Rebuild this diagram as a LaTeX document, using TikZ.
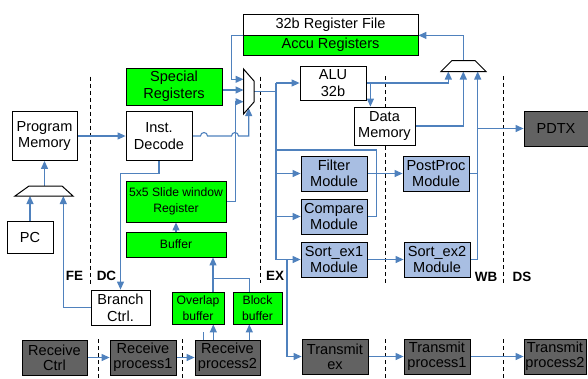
\documentclass[tikz,border=0pt]{standalone}
\usepackage{fontspec}
\setmainfont{Liberation Sans}
\usetikzlibrary{arrows.meta}
\usetikzlibrary{calc}
\usetikzlibrary{backgrounds}

\definecolor{linkblue}{RGB}{79,129,189}
\definecolor{accugreen}{RGB}{0,255,0}
\definecolor{modblue}{RGB}{168,190,226}
\definecolor{iogray}{RGB}{98,98,98}

\tikzset{
    box/.style = {draw=black, line width=0.8bp, fill=white, inner sep=0pt, align=center,
                  font=\fontsize{14.6}{17}\selectfont},
    greenbox/.style = {box, fill=accugreen},
    greensmall/.style = {greenbox, font=\fontsize{12.2}{15.5}\selectfont},
    modbox/.style = {box, fill=modblue, font=\fontsize{14.6}{16}\selectfont},
    iobox/.style = {box, fill=iogray, font=\fontsize{14.6}{15}\selectfont},
    wire/.style = {draw=linkblue, line width=1.1bp},
    link/.style = {wire, -{Triangle[length=8bp,width=7bp]}},
    stage/.style = {draw=black, line width=1bp, dash pattern=on 4bp off 3bp},
    stagelabel/.style = {inner sep=0pt, font=\fontsize{13.5}{13.5}\bfseries\selectfont},
    mux/.style = {draw=black, line width=1bp, fill=white}
}

\begin{document}
\begin{tikzpicture}[x=1bp, y=-1bp]
    \useasboundingbox (0,0) rectangle (588,378);

    % fetch / decode
    \node[box, minimum width=65bp, minimum height=49bp] (progmem) at (44.5,136) {Program\\Memory};
    \node[box, minimum width=66bp, minimum height=49bp] (decode) at (159,136) {Inst.\\Decode};
    \node[box, minimum width=46bp, minimum height=32bp] (pc) at (30,237) {PC};
    \node[box, minimum width=59bp, minimum height=35bp] (branch) at (120.5,307.5) {Branch\\Ctrl.};
    \node[greenbox, minimum width=96bp, minimum height=37bp] (special) at (174,86.5) {Special\\Registers};
    \node[greensmall, minimum width=100bp, minimum height=41bp] (slide) at (176,201.5) {5x5 Slide window\\Register};
    \node[greensmall, minimum width=100bp, minimum height=25bp] (buffer) at (176,244.5) {Buffer};
    \node[greensmall, minimum width=52bp, minimum height=32bp] (overlap) at (198,308) {Overlap\\buffer};
    \node[greensmall, minimum width=49bp, minimum height=32bp] (block) at (257.5,308) {Block\\buffer};

    % execute / write back
    \node[box, minimum width=175bp, minimum height=21bp] (regfile) at (330.5,24.5) {32b Register File};
    \node[greenbox, minimum width=175bp, minimum height=20bp] (accu) at (330.5,45) {Accu Registers};
    \node[box, minimum width=66bp, minimum height=34bp] (alu) at (333,83) {ALU\\32b};
    \node[box, minimum width=61bp, minimum height=38bp] (datamem) at (384.5,126) {Data\\Memory};
    \node[modbox, minimum width=66bp, minimum height=35bp] (filter) at (334,173.5) {Filter\\Module};
    \node[modbox, minimum width=66bp, minimum height=35bp] (compare) at (334,216.5) {Compare\\Module};
    \node[modbox, minimum width=66bp, minimum height=35bp] (sortone) at (334,259.5) {Sort\_ex1\\Module};
    \node[modbox, minimum width=66bp, minimum height=35bp] (postproc) at (436,173.5) {PostProc\\Module};
    \node[modbox, minimum width=66bp, minimum height=35bp] (sorttwo) at (437,259.5) {Sort\_ex2\\Module};
    \node[iobox, minimum width=64bp, minimum height=35bp] (pdtx) at (556,128.5) {PDTX};

    % receive / transmit chain
    \node[iobox, minimum width=65bp, minimum height=35bp] (rxctrl) at (54.5,357.5) {Receive\\Ctrl};
    \node[iobox, minimum width=66bp, minimum height=35bp] (rxone) at (143,357.5) {Receive\\process1};
    \node[iobox, minimum width=65bp, minimum height=35bp] (rxtwo) at (227.5,357.5) {Receive\\process2};
    \node[iobox, minimum width=66bp, minimum height=35bp] (txex) at (335,356.5) {Transmit\\ex};
    \node[iobox, minimum width=66bp, minimum height=35bp] (txone) at (437,356.5) {Transmit\\process1};
    \node[iobox, minimum width=62bp, minimum height=35bp] (txtwo) at (555,356.5) {Transmit\\process2};

    % muxes
    \draw[mux] (15,196) -- (29,186) -- (62,186) -- (73,196) -- cycle;
    \draw[mux] (243.5,69) -- (254,81) -- (254,102) -- (243.5,114) -- cycle;
    \draw[mux] (441,71.5) -- (452,60.5) -- (475,60.5) -- (486,71.5) -- cycle;
    \coordinate (pcmux-in1) at (30,196);
    \coordinate (pcmux-in2) at (63.3,196);
    \coordinate (pcmux-out) at (44.5,186);
    \coordinate (opmux-in1) at (243.5,79.3);
    \coordinate (opmux-in2) at (243.5,90);
    \coordinate (opmux-in3) at (243.5,101.7);
    \coordinate (opmux-in4) at (248.7,108.1);
    \coordinate (opmux-out) at (254,91.7);
    \coordinate (wbmux-in1) at (448.3,71.5);
    \coordinate (wbmux-in2) at (463.3,71.5);
    \coordinate (wbmux-in3) at (477.7,71.5);
    \coordinate (wbmux-out) at (463.3,60.5);
    \coordinate (bus) at (276,83);
    \coordinate (tap) at (276,150);

    % stage labels
    \node[stagelabel] (fe) at (74.5,276) {FE};
    \node[stagelabel] (dc) at (106.5,276) {DC};
    \node[stagelabel] (ex) at (275,276) {EX};
    \node[stagelabel] (wb) at (486,277) {WB};
    \node[stagelabel] (ds) at (522,277) {DS};

    \begin{pgfonlayer}{background}
    \draw[stage] (90.7,76.7) -- (90.7,286);
    \draw[stage] (260.7,76.7) -- (260.7,283);
    \draw[stage] (385.7,76) -- (385.7,283);
    \draw[stage] (385.7,339) -- (385.7,378);
    \draw[stage] (503.3,76) -- (503.3,283);
    \draw[stage] (503.3,339) -- (503.3,378);
    \draw[stage] (98.3,339) -- (98.3,378);
    \draw[stage] (182.7,339) -- (182.7,378);

    % fetch and decode paths
    \draw[link] (pcmux-out) -- (pcmux-out |- progmem.south);
    \draw[link] (pc.north) -- (pcmux-in1);
    \draw[link] (branch.west) -| (pcmux-in2);
    \draw[link] (progmem.east) -- (decode.west);
    \draw[link] (decode.south) -- ++(0,12.7) -| (branch.north);
    \draw[link] (decode.east) -- (200.5,136) arc[start angle=180, end angle=0, radius=3.5bp]
        -- (231.5,136) arc[start angle=180, end angle=0, radius=3.5bp]
        -- (opmux-in4 |- decode.east) -- (opmux-in4);
    \draw[link] (special.east |- opmux-in2) -- (opmux-in2);
    \draw[link] (regfile.south west) -- ++(-11,0) |- (opmux-in1);
    \draw[link] (slide.east) -- ++(9,0) |- (opmux-in3);
    \draw[link] ($(rxtwo.north west)+(9,0)$) -- ($(rxtwo.north west)+(9,0)$ |- special.south);
    \draw[link] (buffer.north) -- (slide.south);
    \draw[link] ([xshift=15bp]overlap.north) -- ([xshift=15bp]overlap.north |- buffer.south);
    \draw[wire] ([xshift=-8bp]block.north) -- ++(0,-13) -| ([xshift=15bp]overlap.north);
    \draw[link] ([xshift=-14.2bp]rxtwo.north) -- ([xshift=-14.2bp]rxtwo.north |- overlap.south);
    \draw[link] ([xshift=21.8bp]rxtwo.north) -- ([xshift=21.8bp]rxtwo.north |- block.south);
    \draw[link] (rxctrl.east) -- (rxone.west);
    \draw[link] (rxone.east) -- (rxtwo.west);

    % execute bus
    \draw[wire] (opmux-out) -| (bus);
    \draw[link] (bus) -- (alu.west);
    \draw[link] (bus) |- (sortone.west);
    \draw[link] (bus |- filter.west) -- (filter.west);
    \draw[link] (bus |- compare.west) -- (compare.west);
    \draw[link] ([xshift=11bp]bus |- sortone.west) |- (txex.west);
    \draw[wire] (compare.east) -- ++(9,0) |- (tap);

    % write back
    \draw[link] (alu.east) -| (wbmux-in1);
    \draw[link] ([xshift=4bp]alu.east) -- ([xshift=4bp]alu.east |- datamem.north);
    \draw[link] (datamem.east) -| (wbmux-in2);
    \draw[link] (sorttwo.east) -| (wbmux-in3);
    \draw[wire] (postproc.east) -- (postproc.east -| wbmux-in3);
    \draw[link] (wbmux-in3 |- pdtx.west) -- (pdtx.west);
    \draw[link] (wbmux-out) |- (regfile.south east);
    \draw[link] (filter.east) -- (postproc.west);
    \draw[link] (sortone.east) -- (sorttwo.west);
    \draw[link] (txex.east) -- (txone.west);
    \draw[link] (txone.east) -- (txtwo.west);
    \end{pgfonlayer}
\end{tikzpicture}
\end{document}
